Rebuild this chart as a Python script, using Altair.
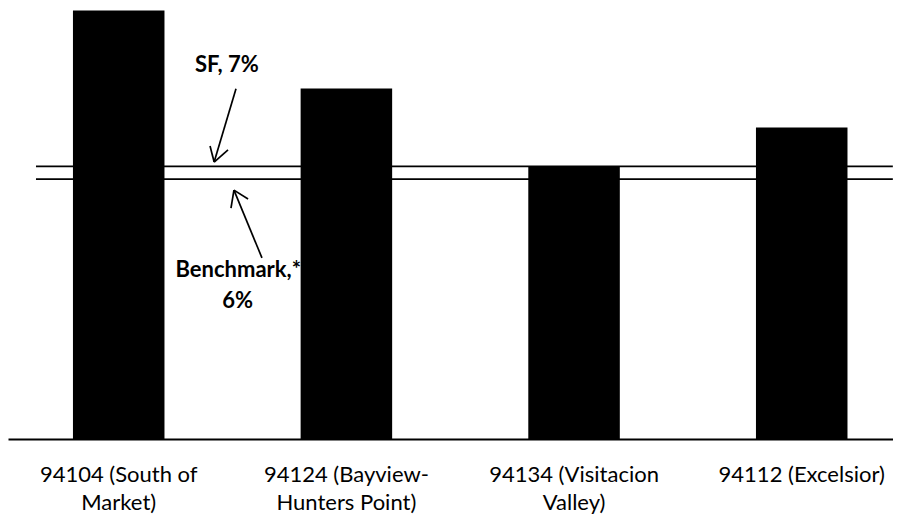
import altair as alt
import pandas as pd

# Bars
categories = ["94104 (South of\nMarket)", "94124 (Bayview-\nHunters Point)",
              "94134 (Visitacion\nValley)", "94112 (Excelsior)"]
values = [11.0, 9.0, 7.0, 8.0]

# Reference lines (SF and benchmark), x in category-index units
ref_names = ["SF", "Benchmark"]
ref_levels = [7.0, 6.67]
ref_start = [-0.3635, -0.3635]
ref_end = [3.40, 3.40]

# Annotation labels
label_texts = ["SF, 7%", "Benchmark,*", "6%"]
label_u = [0.475, 0.525, 0.522]
label_v = [9.42, 4.16, 3.36]

# Arrow segments (shaft + two head arms each)
arrow_u1 = [0.515, 0.419, 0.419, 0.629, 0.506, 0.506]
arrow_v1 = [8.99, 7.11, 7.11, 4.65, 6.39, 6.39]
arrow_u2 = [0.419, 0.401, 0.480, 0.506, 0.493, 0.568]
arrow_v2 = [7.11, 7.52, 7.42, 6.39, 5.93, 6.16]

W, H = 885, 431
FONT = "Lato"

bars_df = pd.DataFrame({"cat": categories, "val": values})
ref_df = pd.DataFrame({"name": ref_names, "y": ref_levels, "u1": ref_start, "u2": ref_end})
lab_df = pd.DataFrame({"text": label_texts, "u": label_u, "v": label_v})
arr_df = pd.DataFrame({"u1": arrow_u1, "v1": arrow_v1, "u2": arrow_u2, "v2": arrow_v2})

yscale = alt.Scale(domain=[0, 11.065], nice=False, zero=True)
uscale = alt.Scale(domain=[-0.4864, 3.4007], nice=False, zero=False)

bars = alt.Chart(bars_df).mark_bar(color="black").encode(
    x=alt.X("cat:N", sort=categories, title=None,
            scale=alt.Scale(paddingInner=0.598, paddingOuter=0.2426, align=0.588, round=False),
            axis=alt.Axis(labelExpr="split(datum.label, '\\n')", labelAngle=0, labelLimit=0,
                          labelFont=FONT, labelFontSize=22, labelColor="black",
                          labelLineHeight=28, labelPadding=25, ticks=False, tickSize=0,
                          domainColor="black", domainWidth=2, grid=False)),
    y=alt.Y("val:Q", scale=yscale, axis=None),
)

refs = alt.Chart(ref_df).mark_rule(color="black", strokeWidth=1.8).encode(
    x=alt.X("u1:Q", scale=uscale, axis=None),
    x2="u2:Q",
    y=alt.Y("y:Q", scale=yscale, axis=None),
)

arrows = alt.Chart(arr_df).mark_rule(color="black", strokeWidth=1.7).encode(
    x=alt.X("u1:Q", scale=uscale, axis=None),
    x2="u2:Q",
    y=alt.Y("v1:Q", scale=yscale, axis=None),
    y2="v2:Q",
)

labels = alt.Chart(lab_df).mark_text(font=FONT, fontWeight="bold", fontSize=22,
                                     align="center", baseline="alphabetic", color="black").encode(
    x=alt.X("u:Q", scale=uscale, axis=None),
    y=alt.Y("v:Q", scale=yscale, axis=None),
    text="text:N",
)

chart = alt.layer(refs, arrows, labels, bars).resolve_scale(x="independent").resolve_axis(
    x="independent"
).properties(
    width=W, height=H,
    padding={"left": 0, "top": 0, "right": 0, "bottom": 75},
    autosize=alt.AutoSizeParams(type="none"),
    background="white",
).configure_view(stroke=None)

chart.save("out.html", embed_options={"renderer": "svg", "actions": False})
